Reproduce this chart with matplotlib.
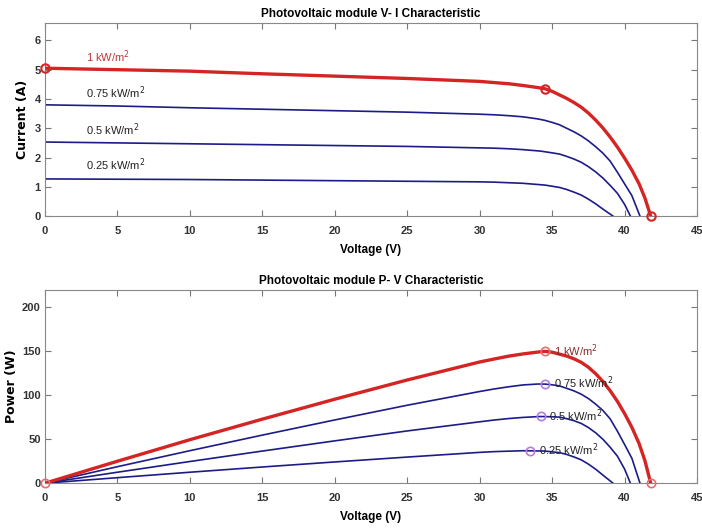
import numpy as np
import matplotlib
matplotlib.use('Agg')
import matplotlib.pyplot as plt

plt.rcParams['font.family'] = ['Liberation Sans Narrow', 'Liberation Sans', 'DejaVu Sans']

# curvas I-V (tensão em V, corrente em A)
v_1000 = [0, 5, 10, 15, 20, 25, 30, 31, 32, 33, 34, 34.5, 35, 35.5, 36, 36.5, 37, 37.5, 38, 38.5,
          39, 39.5, 40, 40.5, 41, 41.4, 41.8]
i_1000 = [5.05, 5.0, 4.95, 4.86, 4.78, 4.7, 4.6, 4.56, 4.52, 4.46, 4.39, 4.35, 4.26, 4.14, 4.02, 3.88,
          3.72, 3.52, 3.28, 3.01, 2.7, 2.36, 1.98, 1.57, 1.1, 0.62, 0]

v_750 = [0, 5, 10, 15, 20, 25, 30, 31, 32, 33, 34, 34.5, 35, 35.5, 36, 36.5, 37, 37.5, 38, 38.5,
         39, 39.5, 40, 40.5, 41.06]
i_750 = [3.8, 3.76, 3.7, 3.65, 3.6, 3.55, 3.48, 3.46, 3.43, 3.39, 3.32, 3.27, 3.2, 3.12, 3.0, 2.88,
         2.74, 2.57, 2.37, 2.15, 1.88, 1.5, 1.1, 0.7, 0]

v_500 = [0, 5, 10, 15, 20, 25, 30, 31, 32, 33, 34.2, 35, 35.5, 36, 36.5, 37, 37.5, 38, 38.5,
         39, 39.5, 40, 40.4]
i_500 = [2.53, 2.5, 2.47, 2.44, 2.41, 2.38, 2.33, 2.32, 2.3, 2.27, 2.22, 2.16, 2.12, 2.04, 1.95,
         1.84, 1.69, 1.51, 1.3, 1.05, 0.78, 0.4, 0]

v_250 = [0, 5, 10, 15, 20, 25, 30, 31, 32, 33, 33.5, 34.5, 35, 35.5, 36, 36.5, 37, 37.5, 38,
         38.5, 39.2]
i_250 = [1.27, 1.26, 1.25, 1.23, 1.21, 1.19, 1.17, 1.16, 1.14, 1.12, 1.1, 1.06, 1.02, 0.98, 0.91,
         0.82, 0.72, 0.58, 0.42, 0.24, 0]

rotulos = ['1 kW/m$^2$', '0.75 kW/m$^2$', '0.5 kW/m$^2$', '0.25 kW/m$^2$']

# pontos marcados (curto-circuito, MPP, circuito aberto)
pts_iv_v = [0, 34.5, 41.8]
pts_iv_i = [5.05, 4.35, 0]
mpp_v = [34.5, 34.5, 34.2, 33.5]
mpp_p = [150, 113, 76, 37]

tensoes = [v_1000, v_750, v_500, v_250]
correntes = [i_1000, i_750, i_500, i_250]

vermelho = '#d42424'
azul = '#1c1c88'

fig = plt.figure(figsize=(7.02, 5.31), dpi=100)
ax1 = fig.add_axes([0.064, 0.593, 0.929, 0.364])
ax2 = fig.add_axes([0.064, 0.090, 0.929, 0.364])

# --- V-I ---
for k in range(3, -1, -1):
    if k == 0:
        ax1.plot(tensoes[k], correntes[k], color=vermelho, lw=2.4, zorder=3)
    else:
        ax1.plot(tensoes[k], correntes[k], color=azul, lw=1.2, zorder=2)
ax1.plot(pts_iv_v, pts_iv_i, 'o', mfc='none', mec=vermelho, ms=6, mew=1.5, zorder=4, clip_on=False)

ax1.text(2.8, 5.45, rotulos[0], color='#c03838', fontsize=8, va='center')
ax1.text(2.8, 4.2, rotulos[1], color='#222222', fontsize=8, va='center')
ax1.text(2.8, 2.95, rotulos[2], color='#222222', fontsize=8, va='center')
ax1.text(2.8, 1.75, rotulos[3], color='#222222', fontsize=8, va='center')

ax1.set_xlim(0, 45)
ax1.set_ylim(0, 6.6)
ax1.set_yticks(range(0, 7))
ax1.set_title('Photovoltaic module V- I Characteristic', fontsize=8.5, fontweight='bold', pad=4)
ax1.set_xlabel('Voltage (V)', fontsize=8.5, fontweight='bold', labelpad=6)
ax1.set_ylabel('Current (A)', fontsize=9, fontweight='bold', family='DejaVu Sans')
ax1.yaxis.set_label_coords(-0.025, 0.5)

# --- P-V ---
for k in range(3, -1, -1):
    p = np.array(tensoes[k]) * np.array(correntes[k])
    if k == 0:
        ax2.plot(tensoes[k], p, color=vermelho, lw=2.4, zorder=3)
    else:
        ax2.plot(tensoes[k], p, color=azul, lw=1.2, zorder=2)

ax2.plot(mpp_v[0], mpp_p[0], 'o', mfc='none', mec='#e07070', ms=6, mew=1.2, zorder=4)
ax2.plot(mpp_v[1:], mpp_p[1:], 'o', mfc='none', mec='#b27ce0', ms=6, mew=1.2, zorder=4, ls='none')
ax2.plot([0, v_1000[-1]], [0, 0], 'o', mfc='none', mec='#e07070', ms=6, mew=1.2, zorder=4, ls='none', clip_on=False)

cores_txt = ['#8a2a2a', '#222222', '#222222', '#222222']
for k in range(4):
    ax2.text(mpp_v[k] + 0.6, mpp_p[k] + 1, rotulos[k], color=cores_txt[k], fontsize=8, va='center', zorder=5)

ax2.set_xlim(0, 45)
ax2.set_ylim(0, 220)
ax2.set_yticks(range(0, 201, 50))
ax2.set_title('Photovoltaic module P- V Characteristic', fontsize=8.5, fontweight='bold', pad=4)
ax2.set_xlabel('Voltage (V)', fontsize=8.5, fontweight='bold', labelpad=6)
ax2.set_ylabel('Power (W)', fontsize=9, fontweight='bold', family='DejaVu Sans')
ax2.yaxis.set_label_coords(-0.042, 0.5)

for ax in (ax1, ax2):
    ax.set_xticks(range(0, 46, 5))
    ax.tick_params(direction='in', top=True, right=True, length=4, width=0.8,
                   color='#777777', labelsize=8)
    ax.tick_params(axis='y', pad=3)
    ax.tick_params(axis='x', pad=7)
    for lab in ax.get_xticklabels() + ax.get_yticklabels():
        lab.set_fontweight('bold')
        lab.set_color('#333333')
    for s in ax.spines.values():
        s.set_color('#888888')
        s.set_linewidth(0.8)

fig.savefig('out.png', dpi=100)
